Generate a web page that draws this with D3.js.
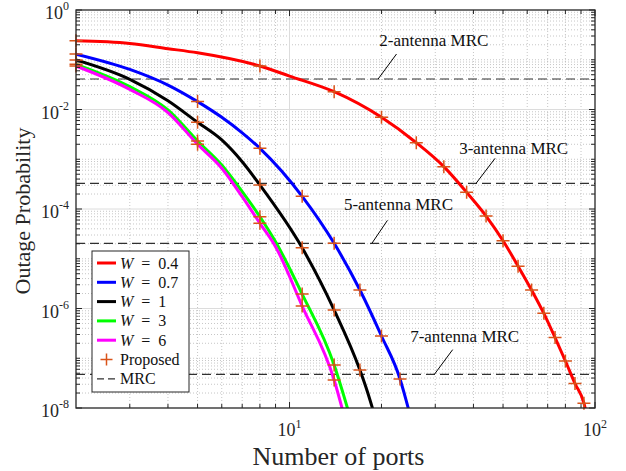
<!DOCTYPE html>
<html>
<head>
<meta charset="utf-8">
<script src="https://cdn.jsdelivr.net/npm/d3@7"></script>
<style>
  body { margin: 0; background: #fff; }
  svg { display: block; font-family: "Liberation Serif", "DejaVu Serif", serif; }
</style>
</head>
<body>
<div id="chart"></div>
<script>
// outage probability vs number of ports, one pair of arrays per W
var portsW04 = [2, 3, 4, 5, 8, 10, 14, 20, 26, 32, 38, 44, 50, 56, 62, 68, 74, 80, 86, 92, 93];
var outageW04 = [0.24, 0.212, 0.167, 0.138, 0.0748, 0.047, 0.0228, 6.97e-3, 2.15e-3, 7.1e-4, 2.16e-4, 7.2e-5, 2.3e-5, 7.1e-6, 2.35e-6, 8.0e-7, 2.6e-7, 8.8e-8, 3.1e-8, 1.25e-8, 9.5e-9];

var portsW07 = [2, 3, 4, 5, 6, 7, 8, 11, 14, 17, 20, 23, 24, 25];
var outageW07 = [0.13, 0.064, 0.031, 0.0144, 6.97e-3, 3.4e-3, 1.66e-3, 1.8e-4, 2.04e-5, 2.35e-6, 2.8e-7, 3.83e-8, 1.55e-8, 6e-9];

var portsW1 = [2, 3, 4, 5, 6, 7, 8, 11, 14, 17, 18, 19];
var outageW1 = [0.099, 0.0404, 0.015, 5.53e-3, 2.44e-3, 8.9e-4, 3.03e-4, 1.66e-5, 9.3e-7, 5.8e-8, 2.1e-8, 7e-9];

var portsW3 = [2, 3, 4, 5, 6, 7, 8, 9, 11, 14, 15, 16];
var outageW3 = [0.081, 0.0288, 9.8e-3, 2.33e-3, 7.66e-4, 2.23e-4, 7.0e-5, 2.2e-5, 1.95e-6, 7.3e-8, 1.9e-8, 5e-9];

var portsW6 = [2, 3, 4, 5, 6, 7, 8, 9, 11, 14, 15];
var outageW6 = [0.0748, 0.0254, 8.7e-3, 2.0e-3, 6.6e-4, 1.77e-4, 5.15e-5, 1.75e-5, 1.12e-6, 3.65e-8, 8e-9];

var wValues = ["0.4", "0.7", "1", "3", "6"];
// ports where the "Proposed" markers sit
var markerPortsW04 = [2, 8, 14, 20, 26, 32, 38, 44, 50, 56, 62, 68, 74, 80, 86, 92];
var markerPortsOther = [2, 5, 8, 11, 14, 17, 20, 23];

// MRC reference levels
var mrcLevels = [4.1e-2, 3.28e-4, 2.04e-5, 4.75e-8];
var mrcLabels = ["2-antenna MRC", "3-antenna MRC", "5-antenna MRC", "7-antenna MRC"];
var mrcArrowPorts = [19.5, 40.8, 18.6, 29.8];

var xTickValues = [10, 100];
var yTickExponents = [0, -2, -4, -6, -8];

var colors = ["#ff0000", "#0000ff", "#000000", "#00ff00", "#ff00ff"];
var markerColor = "#d95319";
var axisColor = "#262626";

var width = 626, height = 471;
var margin = {top: 10, right: 31, bottom: 63, left: 76};
var plotW = width - margin.left - margin.right;
var plotH = height - margin.top - margin.bottom;

var x = d3.scaleLog().domain([2, 100]).range([0, plotW]);
var y = d3.scaleLog().domain([1e-8, 1]).range([plotH, 0]);

var svg = d3.select("#chart").append("svg")
  .attr("width", width)
  .attr("height", height);

svg.append("defs").append("clipPath").attr("id", "plotclip")
  .append("rect").attr("width", plotW).attr("height", plotH);

var g = svg.append("g").attr("transform", "translate(" + margin.left + "," + margin.top + ")");

//minor / major tick values
var xMinor = [];
[1, 10].forEach(function(dec) {
  for (var k = 2; k <= 9; k++) {
    var v = dec * k;
    if (v > 2 && v < 100 && v != 10) xMinor.push(v);
  }
});
var yMinor = [];
for (var e = -8; e < 0; e++) {
  for (var k = 1; k <= 9; k++) {
    var v = k * Math.pow(10, e);
    if (k == 1 && yTickExponents.indexOf(e) >= 0) continue;
    yMinor.push(v);
  }
}
var yMajor = yTickExponents.map(function(e) { return Math.pow(10, e); });

// grid
var grid = g.append("g");
grid.selectAll(".xminor").data(xMinor).enter().append("line")
  .attr("x1", d => x(d)).attr("x2", d => x(d)).attr("y1", 0).attr("y2", plotH)
  .attr("stroke", "#b8b8b8").attr("stroke-width", 0.8).attr("stroke-dasharray", "1,2");
grid.selectAll(".yminor").data(yMinor).enter().append("line")
  .attr("y1", d => y(d)).attr("y2", d => y(d)).attr("x1", 0).attr("x2", plotW)
  .attr("stroke", "#b8b8b8").attr("stroke-width", 0.8).attr("stroke-dasharray", "1,2");
grid.selectAll(".xmajor").data([10]).enter().append("line")
  .attr("x1", d => x(d)).attr("x2", d => x(d)).attr("y1", 0).attr("y2", plotH)
  .attr("stroke", "#dcdcdc").attr("stroke-width", 1);
grid.selectAll(".ymajor").data(yMajor.filter(d => d > 1e-8 && d < 1)).enter().append("line")
  .attr("y1", d => y(d)).attr("y2", d => y(d)).attr("x1", 0).attr("x2", plotW)
  .attr("stroke", "#dcdcdc").attr("stroke-width", 1);

// MRC dashed lines
g.selectAll(".mrc").data(mrcLevels).enter().append("line")
  .attr("x1", 0).attr("x2", plotW)
  .attr("y1", d => y(d)).attr("y2", d => y(d))
  .attr("stroke", "#303030").attr("stroke-width", 1.2).attr("stroke-dasharray", "9,5");

// curves
var series = [
  {ports: portsW04, vals: outageW04, markers: markerPortsW04},
  {ports: portsW07, vals: outageW07, markers: markerPortsOther},
  {ports: portsW1, vals: outageW1, markers: markerPortsOther},
  {ports: portsW3, vals: outageW3, markers: markerPortsOther},
  {ports: portsW6, vals: outageW6, markers: markerPortsOther}
];

var line = d3.line()
  .x(d => x(d[0]))
  .y(d => y(d[1]))
  .curve(d3.curveMonotoneX);

var curves = g.append("g").attr("clip-path", "url(#plotclip)");
series.forEach(function(s, i) {
  var pts = s.ports.map((p, j) => [p, s.vals[j]]);
  curves.append("path")
    .datum(pts)
    .attr("d", line)
    .attr("fill", "none")
    .attr("stroke", colors[i])
    .attr("stroke-width", 3);
});

// proposed markers
function plus(sel, size) {
  sel.append("path")
    .attr("d", "M" + (-size) + ",0H" + size + "M0," + (-size) + "V" + size)
    .attr("stroke", markerColor).attr("stroke-width", 1.5).attr("fill", "none");
}
var marks = g.append("g");
series.forEach(function(s) {
  s.markers.forEach(function(p) {
    var j = s.ports.indexOf(p);
    if (j < 0) return;
    var m = marks.append("g").attr("transform", "translate(" + x(p) + "," + y(s.vals[j]) + ")");
    plus(m, 6.5);
  });
});

// MRC annotations (offsets in pixels from the arrow tip)
var annOffsets = [
  {lx: 18.4, ly: -25, tx: 55.7, ty: -33.3},
  {lx: 19, ly: -25, tx: 37.6, ty: -29.7},
  {lx: 15.6, ly: -23, tx: 26.6, ty: -33},
  {lx: 18.3, ly: -24.7, tx: 30.3, ty: -32.3}
];
mrcLabels.forEach(function(lbl, i) {
  var tx = x(mrcArrowPorts[i]), ty = y(mrcLevels[i]);
  var o = annOffsets[i];
  g.append("line")
    .attr("x1", tx).attr("y1", ty)
    .attr("x2", tx + o.lx).attr("y2", ty + o.ly)
    .attr("stroke", "#000").attr("stroke-width", 1);
  g.append("text")
    .attr("x", tx + o.tx).attr("y", ty + o.ty)
    .attr("text-anchor", "middle")
    .attr("font-size", 17)
    .attr("fill", "#111")
    .text(lbl);
});

// axes box and ticks
var ax = g.append("g").attr("stroke", axisColor).attr("fill", "none");
ax.append("rect").attr("width", plotW).attr("height", plotH).attr("stroke-width", 1.3);
var majLen = 6, minLen = 4;
xTickValues.concat(xMinor).forEach(function(v) {
  var L = xTickValues.indexOf(v) >= 0 ? majLen : minLen;
  ax.append("line").attr("x1", x(v)).attr("x2", x(v)).attr("y1", plotH).attr("y2", plotH - L);
  ax.append("line").attr("x1", x(v)).attr("x2", x(v)).attr("y1", 0).attr("y2", L);
});
yMajor.concat(yMinor).forEach(function(v) {
  var L = yMajor.indexOf(v) >= 0 ? majLen : minLen;
  ax.append("line").attr("y1", y(v)).attr("y2", y(v)).attr("x1", 0).attr("x2", L);
  ax.append("line").attr("y1", y(v)).attr("y2", y(v)).attr("x1", plotW).attr("x2", plotW - L);
});

// tick labels
xTickValues.forEach(function(v) {
  var t = g.append("text")
    .attr("x", x(v)).attr("y", plotH + 28)
    .attr("text-anchor", "middle")
    .attr("font-size", 18).attr("fill", "#262626");
  t.append("tspan").text("10");
  t.append("tspan").attr("dy", -8).attr("font-size", 12).text(Math.round(Math.log10(v)));
});
yTickExponents.forEach(function(e) {
  var t = g.append("text")
    .attr("x", -7).attr("y", y(Math.pow(10, e)) + 9)
    .attr("text-anchor", "end")
    .attr("font-size", 18).attr("fill", "#262626");
  t.append("tspan").text("10");
  t.append("tspan").attr("dy", -9).attr("font-size", 12).text(e == 0 ? "0" : "-" + (-e));
});

// axis titles
svg.append("text")
  .attr("x", margin.left + x(10) + 49).attr("y", 465)
  .attr("text-anchor", "middle").attr("font-size", 26).attr("fill", "#262626")
  .text("Number of ports");
svg.append("text")
  .attr("transform", "translate(30," + (margin.top + plotH / 2 + 2) + ") rotate(-90)")
  .attr("text-anchor", "middle").attr("font-size", 22).attr("fill", "#262626")
  .text("Outage Probability");

// legend
var leg = svg.append("g").attr("transform", "translate(92,251)");
leg.append("rect").attr("width", 97).attr("height", 141)
  .attr("fill", "#fff").attr("stroke", axisColor).attr("stroke-width", 1);
var rowH = 19.3, row0 = 12;
wValues.forEach(function(w, i) {
  var ry = row0 + i * rowH;
  leg.append("line").attr("x1", 5).attr("x2", 24).attr("y1", ry).attr("y2", ry)
    .attr("stroke", colors[i]).attr("stroke-width", 3);
  var t = leg.append("text").attr("x", 28).attr("y", ry + 5.5)
    .attr("font-size", 16).attr("fill", "#111");
  t.append("tspan").attr("font-style", "italic").text("W");
  t.append("tspan").text("\u2002=\u2002" + w);
});
var pr = leg.append("g").attr("transform", "translate(14.5," + (row0 + 5 * rowH) + ")");
plus(pr, 6);
leg.append("text").attr("x", 28).attr("y", row0 + 5 * rowH + 5.5)
  .attr("font-size", 16).attr("fill", "#111").text("Proposed");
leg.append("line").attr("x1", 5).attr("x2", 24)
  .attr("y1", row0 + 6 * rowH).attr("y2", row0 + 6 * rowH)
  .attr("stroke", "#303030").attr("stroke-width", 1.2).attr("stroke-dasharray", "7,4");
leg.append("text").attr("x", 28).attr("y", row0 + 6 * rowH + 5.5)
  .attr("font-size", 16).attr("fill", "#111").text("MRC");
</script>
</body>
</html>
